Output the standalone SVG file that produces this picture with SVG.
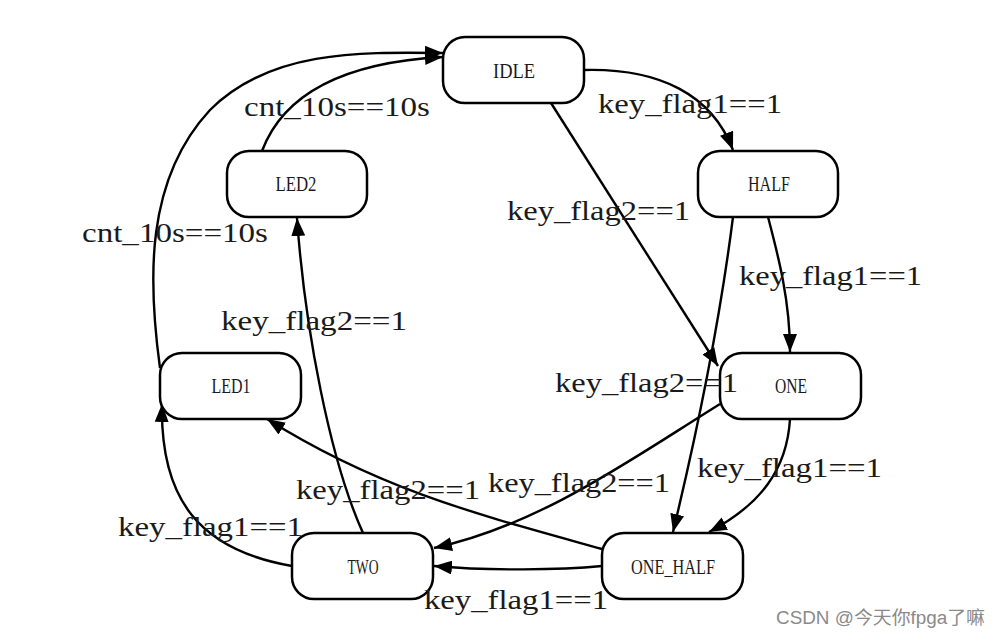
<svg xmlns="http://www.w3.org/2000/svg" width="1000" height="638" viewBox="0 0 1000 638">
<style>
.node rect{fill:#fff;stroke:#000;stroke-width:2.5}
.node text{font-family:"Liberation Serif",serif;font-size:22px;fill:#1a1a1a;text-anchor:middle}
.edges path{fill:none;stroke:#000;stroke-width:2.4;marker-end:url(#arr)}
.lbl{font-family:"Liberation Serif",serif;font-size:27px;fill:#1a1a1a}
.wm{font-family:"Liberation Sans","Noto Sans CJK SC",sans-serif;font-size:18px;fill:#8a8a8a}
</style>
<defs>
<marker id="arr" markerUnits="userSpaceOnUse" markerWidth="18" markerHeight="14" refX="18" refY="7" orient="auto">
<path d="M0,0 L18,7 L0,14 z" fill="#000"/>
</marker>
</defs>
<rect width="1000" height="638" fill="#fff"/>
<g class="edges">
<path d="M584,70 C660,68 712,95 733,150"/>
<path d="M551,103 L718,366"/>
<path d="M768,217 C778,255 790,300 790,352"/>
<path d="M733,217 C720,320 700,420 673,532"/>
<path d="M790,419 C787,470 760,505 709,532"/>
<path d="M720,404 C630,460 540,525 434,548"/>
<path d="M602,566 C560,570 490,571 434,566"/>
<path d="M602,549 C480,515 380,490 267,419"/>
<path d="M363,533 C330,460 305,330 297,218"/>
<path d="M292,566 C200,550 160,500 162,404"/>
<path d="M160,368 C148,280 145,180 210,110 C270,50 360,52 443,53"/>
<path d="M262,151 C285,90 350,62 443,57"/>
</g>
<g id="IDLE" class="node"><rect x="443" y="37" width="141" height="66" rx="22"/><text x="514" y="78" textLength="42" lengthAdjust="spacingAndGlyphs">IDLE</text></g>
<g id="HALF" class="node"><rect x="698" y="151" width="140" height="66" rx="22"/><text x="769" y="191" textLength="42" lengthAdjust="spacingAndGlyphs">HALF</text></g>
<g id="LED2" class="node"><rect x="227" y="151" width="140" height="66" rx="22"/><text x="296" y="191" textLength="41" lengthAdjust="spacingAndGlyphs">LED2</text></g>
<g id="LED1" class="node"><rect x="160" y="353" width="141" height="66" rx="22"/><text x="231" y="393" textLength="39" lengthAdjust="spacingAndGlyphs">LED1</text></g>
<g id="ONE" class="node"><rect x="720" y="353" width="141" height="66" rx="22"/><text x="791" y="393" textLength="32" lengthAdjust="spacingAndGlyphs">ONE</text></g>
<g id="TWO" class="node"><rect x="292" y="533" width="141" height="66" rx="22"/><text x="363" y="574" textLength="31" lengthAdjust="spacingAndGlyphs">TWO</text></g>
<g id="ONE_HALF" class="node"><rect x="602" y="533" width="141" height="66" rx="22"/><text x="673" y="574" textLength="84" lengthAdjust="spacingAndGlyphs">ONE_HALF</text></g>
<g id="labels">
<text class="lbl" x="598" y="113" textLength="184" lengthAdjust="spacingAndGlyphs">key_flag1==1</text>
<text class="lbl" x="244" y="116" textLength="186" lengthAdjust="spacingAndGlyphs">cnt_10s==10s</text>
<text class="lbl" x="507" y="220" textLength="183" lengthAdjust="spacingAndGlyphs">key_flag2==1</text>
<text class="lbl" x="82" y="242" textLength="186" lengthAdjust="spacingAndGlyphs">cnt_10s==10s</text>
<text class="lbl" x="739" y="285" textLength="183" lengthAdjust="spacingAndGlyphs">key_flag1==1</text>
<text class="lbl" x="221" y="330" textLength="186" lengthAdjust="spacingAndGlyphs">key_flag2==1</text>
<text class="lbl" x="555" y="392" textLength="183" lengthAdjust="spacingAndGlyphs">key_flag2==1</text>
<text class="lbl" x="697" y="477" textLength="185" lengthAdjust="spacingAndGlyphs">key_flag1==1</text>
<text class="lbl" x="488" y="492" textLength="182" lengthAdjust="spacingAndGlyphs">key_flag2==1</text>
<text class="lbl" x="296" y="499" textLength="184" lengthAdjust="spacingAndGlyphs">key_flag2==1</text>
<text class="lbl" x="118" y="536" textLength="185" lengthAdjust="spacingAndGlyphs">key_flag1==1</text>
<text class="lbl" x="424" y="609" textLength="184" lengthAdjust="spacingAndGlyphs">key_flag1==1</text>
</g>
<text class="wm" x="776" y="624" textLength="209" lengthAdjust="spacingAndGlyphs">CSDN @今天你fpga了嘛</text>
</svg>
